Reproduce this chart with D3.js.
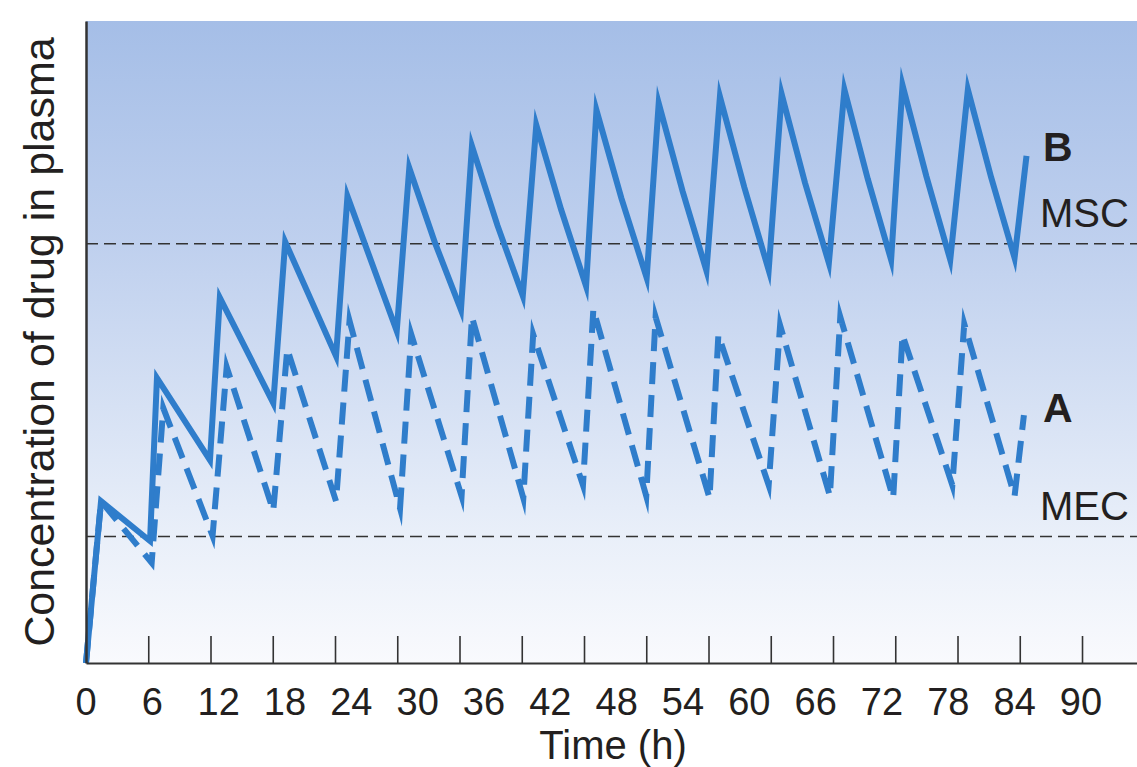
<!DOCTYPE html>
<html><head><meta charset="utf-8">
<script src="https://cdn.jsdelivr.net/npm/d3@7"></script>
<style>body{margin:0;background:#fff}svg{display:block}</style>
</head><body><svg id="c" width="1137" height="767"></svg>
<script>
// ---- data (time in h, concentration in arbitrary units) ----
const timeB = [0,1.45,6.17,6.84,11.95,12.9,18.05,19.2,24.1,25.2,29.95,31.16,33.65,36.14,37.2,39.65,42.1,43.4,45.8,48.2,49.2,51.6,54.04,55.2,57.5,59.8,61.1,63.45,65.8,67.05,69.3,71.6,73.1,75.35,77.6,78.7,81.0,83.3,85.0,87.25,89.5,90.65];
const concB = [0,25.2,19.0,44.4,31.6,56.9,40.5,65.6,47.8,72.7,51.7,77.1,65.4,55.0,80.5,68.2,57.2,83.8,70.6,58.7,86.1,72.4,60.0,87.2,73.5,61.1,88.2,74.1,61.2,88.6,74.8,62.3,89.3,75.4,62.8,90.0,75.8,62.8,89.3,75.6,63.1,79.0];
const timeA = [0,1.45,6.33,7.45,12.2,13.56,18.05,19.4,24.1,25.4,30.27,31.35,36.2,37.2,42.15,43.1,47.9,48.9,54.0,54.9,60.1,60.95,65.8,66.9,71.7,72.7,77.8,78.7,83.5,84.65,89.5,90.4];
const concA = [0,25.2,15.6,39.7,19.8,46.1,23.7,48.9,25.2,53.3,24.1,51.2,26.0,53.9,25.7,51.2,27.7,55.1,26.0,53.9,25.7,51.1,27.7,52.6,26.0,53.9,25.7,51.1,27.7,52.8,26.0,38.6];
const tickValues = [6,12,18,24,30,36,42,48,54,60,66,72,78,84,90,96];
const tickLabels = [0,6,12,18,24,30,36,42,48,54,60,66,72,78,84,90];
const refNames = ["MSC","MEC"];
const refValues = [65.3,19.7];
const seriesNames = ["B","A"];
const seriesLabelValues = [80.5,40.0];

// ---- drawing ----
const svg = d3.select("#c");
const FONT = "'Liberation Sans', Arial, Helvetica, sans-serif";
const ink = "#231f20";
const blue = "#2f7dcb";
const x = d3.scaleLinear().domain([0,101.3]).range([86,1137]);
const y = d3.scaleLinear().domain([0,100]).range([663,21]);
const xLab = d3.scaleLinear().domain([0,90]).range([86,1081]);

const defs = svg.append("defs");
const g = defs.append("linearGradient").attr("id","bg").attr("x1",0).attr("y1",0).attr("x2",0).attr("y2",1);
[[0,"#a5bee7"],[0.35,"#bfd0ee"],[0.6,"#d6e1f4"],[0.8,"#e9eff9"],[1,"#f9fafd"]].forEach(s=>
  g.append("stop").attr("offset",s[0]).attr("stop-color",s[1]));

svg.append("rect").attr("x",x(0)).attr("y",y(100)).attr("width",x(101.3)-x(0)).attr("height",y(0)-y(100)).attr("fill","url(#bg)");

// reference lines
svg.selectAll(".ref").data(refValues).enter().append("line")
  .attr("x1",x(0)).attr("x2",x(101.3)).attr("y1",d=>y(d)).attr("y2",d=>y(d))
  .attr("stroke","#333").attr("stroke-width",1.6).attr("stroke-dasharray","12,6");

const lineGen = d3.line().x(d=>x(d[0])).y(d=>y(d[1]));
const dataB = timeB.map((t,i)=>[t,concB[i]]);
const dataA = timeA.map((t,i)=>[t,concA[i]]);

svg.append("path").attr("d",lineGen(dataB)).attr("fill","none").attr("stroke",blue)
  .attr("stroke-width",6).attr("stroke-linejoin","miter").attr("stroke-miterlimit",12);
svg.append("path").attr("d",lineGen(dataA)).attr("fill","none").attr("stroke",blue)
  .attr("stroke-width",6).attr("stroke-linejoin","miter").attr("stroke-miterlimit",12)
  .attr("stroke-dasharray","22,11");

// axes
const xAxis = svg.append("g").attr("transform",`translate(0,${y(0)})`)
  .call(d3.axisBottom(x).tickValues(tickValues).tickSize(-27).tickSizeOuter(0).tickFormat(""));
xAxis.select(".domain").attr("stroke","#333").attr("stroke-width",2);
xAxis.selectAll(".tick line").attr("stroke","#333").attr("stroke-width",1.6);

const yAxis = svg.append("g").attr("transform",`translate(${x(0)},0)`)
  .call(d3.axisLeft(y).tickValues([]).tickSizeOuter(0));
yAxis.select(".domain").attr("stroke","#333").attr("stroke-width",2.5);

// tick labels
svg.selectAll(".tl").data(tickLabels).enter().append("text")
  .attr("x",d=>xLab(d)).attr("y",715).attr("text-anchor","middle")
  .attr("font-family",FONT).attr("font-size",38).attr("fill",ink).text(d=>d);

svg.append("text").attr("x",613).attr("y",759).attr("text-anchor","middle")
  .attr("font-family",FONT).attr("font-size",40).attr("fill",ink).text("Time (h)");

svg.append("text").attr("transform","translate(54,342) rotate(-90)").attr("text-anchor","middle")
  .attr("font-family",FONT).attr("font-size",43).attr("fill",ink).text("Concentration of drug in plasma");

// reference labels
svg.selectAll(".rl").data(refNames).enter().append("text")
  .attr("x",1040).attr("y",(d,i)=>y(refValues[i])-17).attr("font-family",FONT).attr("font-size",40)
  .attr("fill",ink).text(d=>d);

// series labels
svg.selectAll(".sl").data(seriesNames).enter().append("text")
  .attr("x",1043).attr("y",(d,i)=>y(seriesLabelValues[i])+(i===0?15:16))
  .attr("font-family",FONT).attr("font-size",41).attr("font-weight","bold")
  .attr("fill",ink).text(d=>d);
</script></body></html>
